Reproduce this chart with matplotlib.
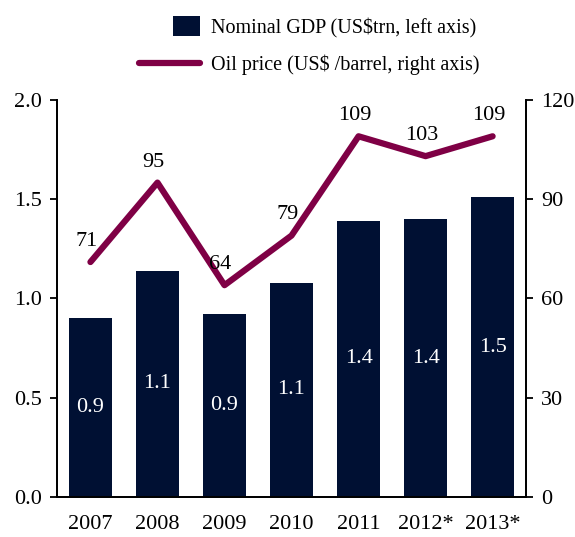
import matplotlib
matplotlib.use("Agg")
import matplotlib.pyplot as plt
from matplotlib.patches import Rectangle
from matplotlib.legend_handler import HandlerPatch

years = ["2007", "2008", "2009", "2010", "2011", "2012*", "2013*"]
gdp = [0.90, 1.14, 0.92, 1.08, 1.39, 1.40, 1.51]
gdp_labels = ["0.9", "1.1", "0.9", "1.1", "1.4", "1.4", "1.5"]
oil = [71, 95, 64, 79, 109, 103, 109]

BAR_COLOR = "#001033"
LINE_COLOR = "#7f0045"

plt.rcParams["font.family"] = ["Liberation Serif", "DejaVu Serif"]
plt.rcParams["font.size"] = 15

fig = plt.figure(figsize=(5.75, 5.37), dpi=100)
ax = fig.add_axes([0.099, 0.0745, 0.816, 0.7395])
ax2 = ax.twinx()

x = list(range(len(years)))
bars = ax.bar(x, gdp, width=0.63, color=BAR_COLOR, label="Nominal GDP (US$trn, left axis)", zorder=2)
for xi, v, lab in zip(x, gdp, gdp_labels):
    ax.text(xi, v / 2, lab, color="white", ha="center", va="center", fontsize=16)

line, = ax2.plot(x, oil, color=LINE_COLOR, lw=4.5, solid_capstyle="round",
                 label="Oil price (US$ /barrel, right axis)")
for xi, v in zip(x, oil):
    ax2.annotate(str(v), (xi, v), xytext=(-3, 8), textcoords="offset points",
                 ha="center", va="bottom", fontsize=16)

ax.set_xlim(-0.5, len(years) - 0.5)
ax.set_ylim(0, 2.0)
ax2.set_ylim(0, 120)
ax.set_yticks([0.0, 0.5, 1.0, 1.5, 2.0])
ax.set_yticklabels(["0.0", "0.5", "1.0", "1.5", "2.0"])
ax2.set_yticks([0, 30, 60, 90, 120])
ax.set_xticks(x)
ax.set_xticklabels(years)

for a in (ax, ax2):
    a.spines["top"].set_visible(False)
    for s in a.spines.values():
        s.set_linewidth(1.3)
ax.tick_params(axis="x", length=0, pad=13, labelsize=16)
ax.tick_params(axis="y", direction="out", length=5, width=1.3, labelsize=16, pad=6)
ax2.tick_params(axis="y", direction="out", length=5, width=1.3, labelsize=16, pad=6)


# square legend key for the bars (size in points)
def square_patch(legend, orig_handle, xdescent, ydescent, width, height, fontsize):
    w = 20
    h = 14.5
    return Rectangle((width - w - xdescent, -ydescent + height / 2 - h / 2), w, h)


bar_handle = bars.patches[0]
fig.legend([bar_handle, line], [bars.get_label(), line.get_label()],
           loc="upper left", bbox_to_anchor=(0.224, 0.985), frameon=False,
           handlelength=3.05, handletextpad=0.55, labelspacing=0.8, borderpad=0,
           fontsize=14.5, handler_map={Rectangle: HandlerPatch(patch_func=square_patch)})

fig.savefig("out.png", dpi=100)
